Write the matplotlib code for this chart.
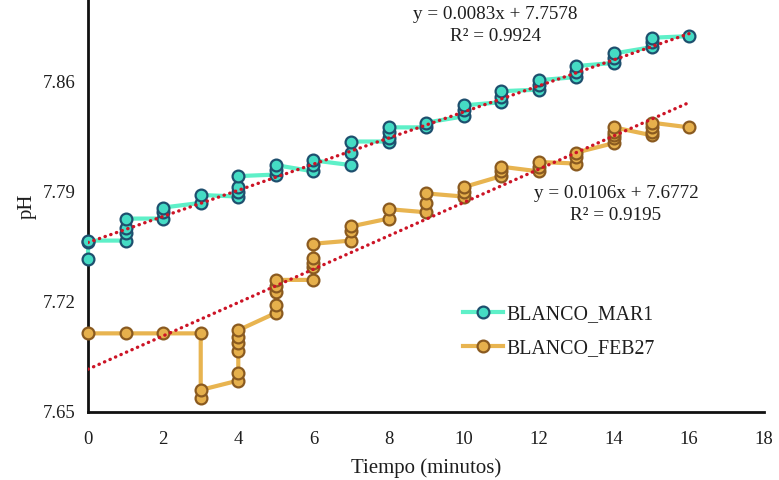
import matplotlib
matplotlib.use("Agg")
import matplotlib.pyplot as plt
import numpy as np

plt.rcParams['font.family'] = ['Liberation Serif', 'DejaVu Serif']

# ---- data ----
mar1_t = [0, 0, 0, 1, 1, 1, 1, 2, 2, 2, 3, 3, 4, 4, 4, 4, 5, 5, 5, 6, 6, 6,
          7, 7, 7, 8, 8, 8, 8, 9, 9, 10, 10, 10, 11, 11, 11, 12, 12, 12,
          13, 13, 13, 14, 14, 14, 15, 15, 15, 16]
mar1_ph = [7.747, 7.758, 7.759, 7.759, 7.764, 7.767, 7.773, 7.773, 7.777, 7.780,
           7.783, 7.788, 7.787, 7.790, 7.793, 7.800, 7.801, 7.804, 7.807,
           7.803, 7.807, 7.810, 7.807, 7.815, 7.822, 7.822, 7.824, 7.828, 7.831,
           7.831, 7.834, 7.838, 7.842, 7.845, 7.847, 7.850, 7.854,
           7.855, 7.858, 7.861, 7.863, 7.866, 7.870, 7.872, 7.875, 7.878,
           7.882, 7.885, 7.888, 7.889]

feb27_t = [0, 1, 2, 3, 3, 3, 4, 4, 4, 4, 4, 4, 5, 5, 5, 5, 5, 6, 6, 6, 6, 6,
           7, 7, 7, 8, 8, 9, 9, 9, 10, 10, 10, 11, 11, 11, 12, 12, 12,
           13, 13, 13, 14, 14, 14, 14, 14, 15, 15, 15, 15, 16]
feb27_ph = [7.700, 7.700, 7.700, 7.700, 7.659, 7.664,
            7.670, 7.675, 7.689, 7.694, 7.698, 7.702,
            7.713, 7.718, 7.726, 7.730, 7.734,
            7.734, 7.742, 7.745, 7.748, 7.757,
            7.759, 7.765, 7.768, 7.773, 7.779, 7.777, 7.783, 7.789,
            7.787, 7.790, 7.793, 7.800, 7.803, 7.806, 7.803, 7.806, 7.809,
            7.808, 7.812, 7.815, 7.821, 7.824, 7.826, 7.828, 7.831,
            7.826, 7.828, 7.831, 7.834, 7.831]

mar1_fit = (0.0083, 7.7578, 0.9924)
feb27_fit = (0.0106, 7.6772, 0.9195)

x_ticks = [0, 2, 4, 6, 8, 10, 12, 14, 16, 18]
y_ticks = [7.65, 7.72, 7.79, 7.86]

# ---- figure ----
fig = plt.figure(figsize=(7.79, 4.8), dpi=100)
ax = fig.add_axes([0.113, 0.1417, 0.868, 0.8583])

ax.plot(mar1_t, mar1_ph, '-o', color='#5EF0C8', lw=3,
        markersize=8.5, markerfacecolor='#45DCC4', markeredgecolor='#1E4F6E',
        markeredgewidth=1.6, label='BLANCO_MAR1', clip_on=False, zorder=3)
ax.plot(feb27_t, feb27_ph, '-o', color='#E8B450', lw=3,
        markersize=8.5, markerfacecolor='#E6B04C', markeredgecolor='#8A5A20',
        markeredgewidth=1.6, label='BLANCO_FEB27', clip_on=False, zorder=3)

for (m, b, r2), ts in ((mar1_fit, mar1_t), (feb27_fit, feb27_t)):
    xx = np.array([min(ts), max(ts)])
    ax.plot(xx, m * xx + b, color='#CC1426', lw=2.4,
            linestyle=(0, (0.1, 1.7)), dash_capstyle='round', zorder=4)

txt_col = '#1E1E1E'
fs_eq = 13.8
# equation labels (data coordinates)
ax.text(10.84, 7.903, f"y = {mar1_fit[0]}x + {mar1_fit[1]}",
        ha='center', va='center', fontsize=fs_eq, color=txt_col, clip_on=False)
ax.text(10.84, 7.889, f"R² = {mar1_fit[2]}",
        ha='center', va='center', fontsize=fs_eq, color=txt_col)
ax.text(14.05, 7.789, f"y = {feb27_fit[0]}x + {feb27_fit[1]}",
        ha='center', va='center', fontsize=fs_eq, color=txt_col)
ax.text(14.05, 7.775, f"R² = {feb27_fit[2]}",
        ha='center', va='center', fontsize=fs_eq, color=txt_col)

ax.set_xlim(0, 18)
ax.set_ylim(7.65, 7.912)
ax.set_xticks(x_ticks)
ax.set_yticks(y_ticks)
ax.set_yticklabels([f"{v:.2f}" for v in y_ticks])
ax.tick_params(axis='y', length=0, labelsize=13.5, pad=9, colors=txt_col)
ax.tick_params(axis='x', length=0, labelsize=13.5, pad=14, colors=txt_col)

for s in ('top', 'right'):
    ax.spines[s].set_visible(False)
for s in ('left', 'bottom'):
    ax.spines[s].set_linewidth(2)
    ax.spines[s].set_color('#111111')

ax.set_xlabel('Tiempo (minutos)', fontsize=15, color=txt_col, labelpad=7)
ax.set_ylabel('pH', fontsize=15, color=txt_col, labelpad=4)

leg = ax.legend(loc='upper left', bbox_to_anchor=(0.528, 0.302), frameon=False,
                fontsize=14.3, handlelength=2.0, handletextpad=0.2,
                labelspacing=0.75)
for t in leg.get_texts():
    t.set_color(txt_col)

fig.savefig('out.png', dpi=100)
